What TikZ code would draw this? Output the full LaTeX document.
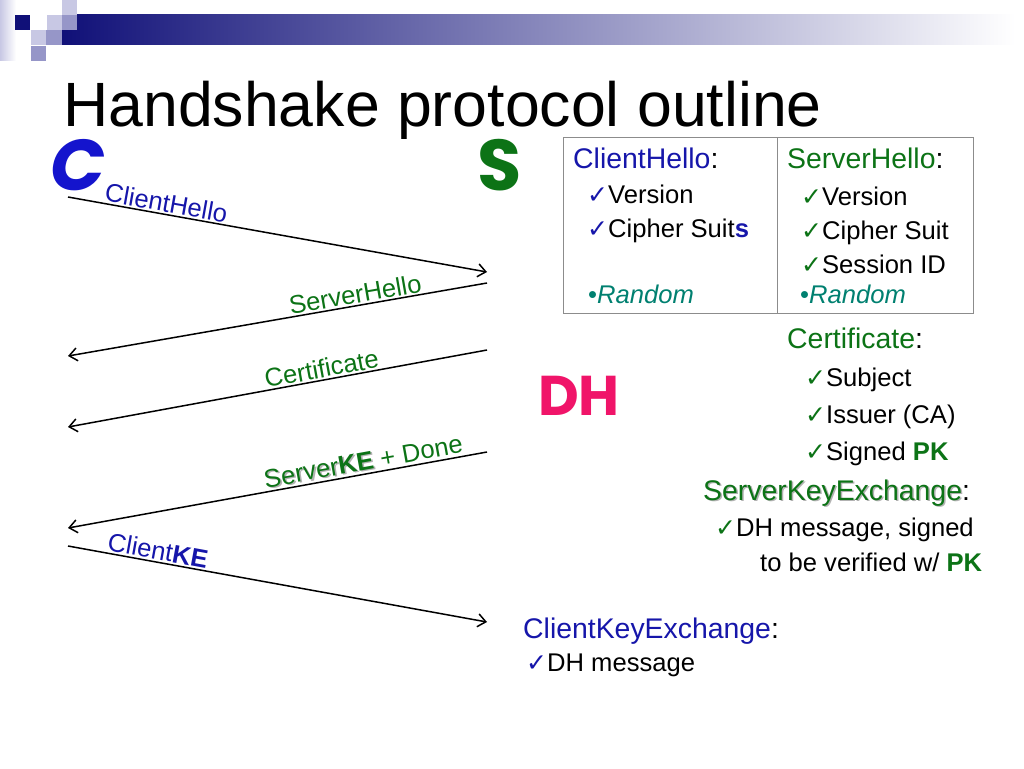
\documentclass[tikz,border=0pt]{standalone}
\usepackage{fontspec}
\setmainfont{Liberation Sans}
\newfontfamily\dejavu{DejaVu Sans}
\newfontfamily\handfont{Poppins}
\usetikzlibrary{arrows.meta}

\definecolor{cblue}{RGB}{22,22,170}
\definecolor{cbright}{RGB}{20,20,205}
\definecolor{sgreen}{RGB}{12,115,22}
\definecolor{rteal}{RGB}{0,128,112}
\definecolor{dhpink}{RGB}{240,20,105}
\definecolor{navy}{RGB}{16,16,120}
\definecolor{lilac}{RGB}{200,200,228}
\definecolor{lilacdark}{RGB}{150,150,200}

\newcommand{\chk}[1]{{\color{#1}\dejavu\fontsize{25}{25}\selectfont ✓}}
\newcommand{\shd}[1]{\rlap{\hspace{1.5pt}\raisebox{-1.5pt}{\textcolor{black!30}{#1}}}#1}

\begin{document}
\begin{tikzpicture}[x=1pt,y=-1pt,
    msg/.style={line width=1.5pt,black},
    tip/.tip={Straight Barb[length=8pt,width=13pt]},
    lbl/.style={font=\fontsize{25.6}{28}\selectfont,inner sep=1.5pt},
    head/.style={font=\fontsize{28.4}{30}\selectfont,anchor=base west,inner sep=0pt},
    item/.style={font=\fontsize{25.6}{28}\selectfont,anchor=base west,inner sep=0pt}]
  \useasboundingbox (0,0) rectangle (1024,768);
  % header bar and squares
  \shade[left color=lilac,right color=white] (0,0) rectangle (16,60);
  \shade[left color=navy,right color=white] (62,15) rectangle (1015,45);
  \fill[navy] (15,15) rectangle (30,30);
  \fill[lilac] (47,15) rectangle (62,30);
  \fill[lilac] (62,0) rectangle (77,15);
  \fill[lilacdark] (62,15) rectangle (77,30);
  \fill[lilac] (31,30) rectangle (46,45);
  \fill[lilacdark] (46,30) rectangle (62,45);
  \fill[lilacdark] (31,46) rectangle (46,61);
  \node[anchor=base west,inner sep=0pt,font=\fontsize{62.6}{64}\selectfont] (title) at (63,126) {Handshake protocol outline};
  % client and server
  \node[anchor=base west,inner sep=0pt,text=cbright,font=\handfont\bfseries\itshape\fontsize{72}{72}\selectfont] (client) at (50,190) {C};
  \node[anchor=base west,inner sep=0pt,text=sgreen,font=\handfont\bfseries\fontsize{72}{72}\selectfont] (server) at (477,190) {S};
  \node[anchor=base west,inner sep=0pt,text=dhpink,font=\handfont\bfseries\fontsize{56}{56}\selectfont] (dh) at (538,415) {DH};
  % messages
  \coordinate (c1) at (68,197);  \coordinate (s1) at (487,272);
  \coordinate (c2) at (68,356);  \coordinate (s2) at (487,283);
  \coordinate (c3) at (68,427);  \coordinate (s3) at (487,350);
  \coordinate (c4) at (68,528);  \coordinate (s4) at (487,452);
  \coordinate (c5) at (68,546);  \coordinate (s5) at (487,622);
  \draw[msg,-tip] (c1) -- node[lbl,sloped,above,pos=0.23,text=cblue] {ClientHello} (s1);
  \draw[msg,tip-] (c2) -- node[lbl,sloped,above,pos=0.69,text=sgreen] {ServerHello} (s2);
  \draw[msg,tip-] (c3) -- node[lbl,sloped,above,pos=0.61,text=sgreen] {Certificate} (s3);
  \draw[msg,tip-] (c4) -- node[lbl,sloped,above,pos=0.71,text=sgreen] {\shd{Server\textbf{KE}} + Done} (s4);
  \draw[msg,-tip] (c5) -- node[lbl,sloped,above,pos=0.21,text=cblue] {Client\textbf{KE}} (s5);
  % hello table
  \draw[black!45,line width=0.8pt] (563,137) rectangle (973,313);
  \draw[black!45,line width=0.8pt] (777,137) -- (777,313);
  \node[head] (ch) at (573,168) {\textcolor{cblue}{ClientHello}:};
  \node[item] (ch1) at (587,203) {\chk{cblue}Version};
  \node[item] (ch2) at (587,237) {\chk{cblue}Cipher Suit\textcolor{cblue}{\textbf{s}}};
  \node[item] (ch3) at (588,303) {\textcolor{rteal}{\textbullet\itshape Random}};
  \node[head] (sh) at (787,168) {\textcolor{sgreen}{ServerHello}:};
  \node[item] (sh1) at (801,205) {\chk{sgreen}Version};
  \node[item] (sh2) at (801,239) {\chk{sgreen}Cipher Suit};
  \node[item] (sh3) at (801,273) {\chk{sgreen}Session ID};
  \node[item] (sh4) at (800,303) {\textcolor{rteal}{\textbullet\itshape Random}};
  % certificate
  \node[head] (ce) at (787,348) {\textcolor{sgreen}{Certificate}:};
  \node[item] (ce1) at (805,386) {\chk{sgreen}Subject};
  \node[item] (ce2) at (805,423) {\chk{sgreen}Issuer (CA)};
  \node[item] (ce3) at (805,460) {\chk{sgreen}Signed \textcolor{sgreen}{\textbf{PK}}};
  % key exchange
  \node[head] (ske) at (703,500) {\textcolor{sgreen}{\shd{ServerKeyExchange}}:};
  \node[item] (ske1) at (715,536) {\chk{sgreen}DH message, signed};
  \node[item] (ske2) at (760,571) {to be verified w/ \textcolor{sgreen}{\textbf{PK}}};
  \node[head] (cke) at (523,638) {\textcolor{cblue}{ClientKeyExchange}:};
  \node[item] (cke1) at (526,671) {\chk{cblue}DH message};
\end{tikzpicture}
\end{document}
